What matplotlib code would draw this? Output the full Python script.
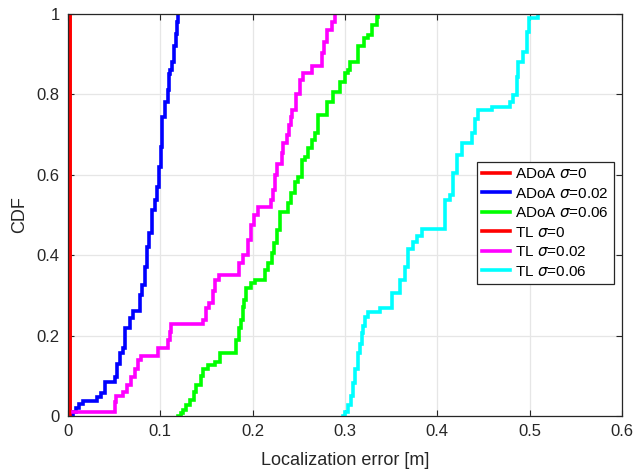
import matplotlib
matplotlib.use("Agg")
import matplotlib.pyplot as plt

plt.rcParams['font.family'] = ['Liberation Sans', 'DejaVu Sans']
plt.rcParams['mathtext.fontset'] = 'dejavusans'

# ---- data: CDF step corners (x = error at jump, y = CDF after jump) ----
adoa0_x = [0.002, 0.002]
adoa0_y = [0.0, 1.0]

adoa002_x = [0.002, 0.005, 0.009, 0.012, 0.016, 0.031, 0.036, 0.040, 0.051, 0.053,
             0.056, 0.060, 0.062, 0.067, 0.070, 0.078, 0.080, 0.083, 0.0855, 0.088,
             0.091, 0.094, 0.096, 0.099, 0.101, 0.102, 0.105, 0.108, 0.109, 0.111,
             0.113, 0.115, 0.117, 0.1185, 0.1195]
adoa002_y = [0.0, 0.01, 0.02, 0.03, 0.038, 0.048, 0.058, 0.085, 0.098, 0.13,
             0.156, 0.17, 0.218, 0.243, 0.26, 0.30, 0.326, 0.37, 0.42, 0.454,
             0.512, 0.537, 0.57, 0.62, 0.67, 0.745, 0.78, 0.81, 0.85, 0.86,
             0.88, 0.92, 0.95, 0.98, 1.0]

adoa006_x = [0.1195, 0.122, 0.125, 0.128, 0.132, 0.136, 0.139, 0.144, 0.146, 0.152,
             0.159, 0.165, 0.182, 0.185, 0.187, 0.189, 0.191, 0.193, 0.198, 0.203,
             0.2134, 0.217, 0.2206, 0.223, 0.226, 0.2296, 0.2386, 0.242, 0.2456, 0.249,
             0.2531, 0.2566, 0.260, 0.264, 0.2675, 0.271, 0.2802, 0.2874, 0.2946, 0.300,
             0.3036, 0.3054, 0.3145, 0.3206, 0.3253, 0.329, 0.3343, 0.336]
adoa006_y = [0.0, 0.008, 0.015, 0.027, 0.04, 0.06, 0.077, 0.10, 0.118, 0.127,
             0.135, 0.157, 0.189, 0.22, 0.239, 0.27, 0.289, 0.318, 0.33, 0.338,
             0.363, 0.38, 0.405, 0.43, 0.463, 0.508, 0.529, 0.554, 0.583, 0.595,
             0.637, 0.645, 0.666, 0.687, 0.703, 0.749, 0.782, 0.807, 0.832, 0.852,
             0.861, 0.881, 0.92, 0.94, 0.948, 0.973, 0.993, 1.0]

tl0_x = [0.002, 0.002]
tl0_y = [0.0, 1.0]

tl002_x = [0.005, 0.051, 0.052, 0.060, 0.064, 0.068, 0.073, 0.076, 0.079, 0.097,
           0.108, 0.111, 0.112, 0.146, 0.149, 0.153, 0.157, 0.159, 0.163, 0.185,
           0.189, 0.195, 0.198, 0.2015, 0.206, 0.2195, 0.222, 0.2245, 0.226, 0.2315,
           0.2333, 0.237, 0.2395, 0.241, 0.243, 0.2465, 0.251, 0.254, 0.264, 0.2747,
           0.2775, 0.281, 0.286, 0.289]
tl002_y = [0.01, 0.035, 0.05, 0.06, 0.077, 0.098, 0.118, 0.14, 0.149, 0.17,
           0.189, 0.21, 0.23, 0.239, 0.268, 0.28, 0.31, 0.338, 0.35, 0.38,
           0.40, 0.438, 0.475, 0.50, 0.519, 0.537, 0.562, 0.60, 0.628, 0.655,
           0.678, 0.70, 0.724, 0.745, 0.76, 0.80, 0.836, 0.853, 0.87, 0.902,
           0.93, 0.96, 0.98, 1.0]

tl006_x = [0.2975, 0.2995, 0.3035, 0.306, 0.3083, 0.311, 0.3145, 0.316, 0.318, 0.320,
           0.3217, 0.325, 0.3379, 0.3506, 0.3596, 0.365, 0.3686, 0.374, 0.3776, 0.383,
           0.4083, 0.4137, 0.4173, 0.421, 0.4264, 0.4372, 0.4408, 0.4444, 0.4589, 0.4787,
           0.4823, 0.486, 0.4877, 0.4931, 0.4968, 0.4997, 0.5094]
tl006_y = [0.0, 0.01, 0.027, 0.05, 0.081, 0.118, 0.156, 0.18, 0.206, 0.225,
           0.247, 0.258, 0.268, 0.305, 0.338, 0.371, 0.415, 0.432, 0.448, 0.466,
           0.537, 0.55, 0.604, 0.649, 0.678, 0.703, 0.74, 0.761, 0.769, 0.782,
           0.798, 0.844, 0.881, 0.906, 0.956, 0.99, 1.0]

series = [
    (adoa0_x, adoa0_y, '#ff0000', r'ADoA $\sigma$=0'),
    (adoa002_x, adoa002_y, '#0000ff', r'ADoA $\sigma$=0.02'),
    (adoa006_x, adoa006_y, '#00ff00', r'ADoA $\sigma$=0.06'),
    (tl0_x, tl0_y, '#ff0000', r'TL $\sigma$=0'),
    (tl002_x, tl002_y, '#ff00ff', r'TL $\sigma$=0.02'),
    (tl006_x, tl006_y, '#00ffff', r'TL $\sigma$=0.06'),
]

xticks = [0, 0.1, 0.2, 0.3, 0.4, 0.5, 0.6]
xticklabels = ['0', '0.1', '0.2', '0.3', '0.4', '0.5', '0.6']
yticks = [0, 0.2, 0.4, 0.6, 0.8, 1.0]
yticklabels = ['0', '0.2', '0.4', '0.6', '0.8', '1']

fig = plt.figure(figsize=(6.34, 4.74), dpi=100)
ax = fig.add_axes([68/634, 1 - 416/474, (622-68)/634, (416-14)/474])

for xs, ys, c, lab in series:
    ax.plot(xs, ys, color=c, lw=2.6, drawstyle='steps-post', label=lab,
            solid_joinstyle='miter')

ax.set_xlim(0, 0.6)
ax.set_ylim(0, 1)
ax.set_xticks(xticks)
ax.set_xticklabels(xticklabels)
ax.set_yticks(yticks)
ax.set_yticklabels(yticklabels)
ax.grid(True, color='#e6e6e6', lw=0.9)
ax.set_axisbelow(True)
for s in ax.spines.values():
    s.set_color('#262626')
    s.set_linewidth(0.9)
ax.tick_params(direction='in', top=True, right=True, length=4, width=0.8,
               colors='#262626', labelsize=12, pad=6)
ax.set_xlabel('Localization error [m]', fontsize=13, color='#262626', labelpad=9)
ax.set_ylabel('CDF', fontsize=13, color='#262626', labelpad=6)

leg = ax.legend(loc='upper left', fontsize=11, frameon=True,
                fancybox=False, edgecolor='#262626', framealpha=1,
                handlelength=1.85, handletextpad=0.3, labelspacing=0.36,
                borderpad=0.34, borderaxespad=0,
                bbox_to_anchor=((477-68)/554, (416-162)/402),
                bbox_transform=ax.transAxes)
leg.get_frame().set_linewidth(0.9)

fig.savefig('out.png', dpi=100)
